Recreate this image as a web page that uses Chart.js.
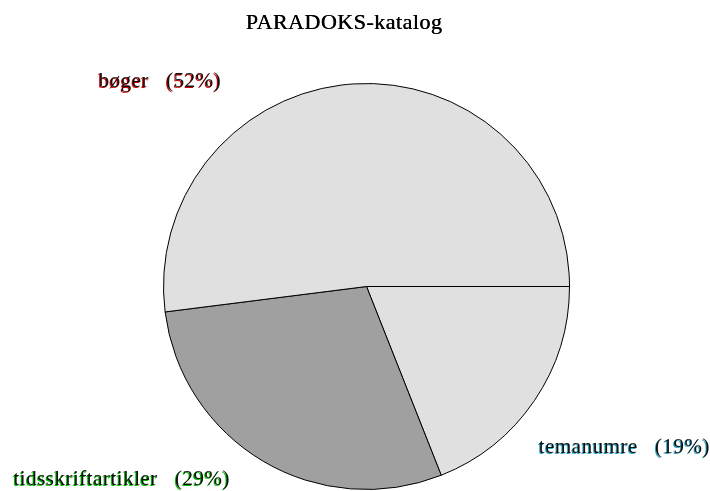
<!DOCTYPE html>
<html>
  <head>
    <title>PARADOKS-katalog</title>
    <script src="https://cdn.jsdelivr.net/npm/chart.js"></script>
    <style>
      body {
        margin: 0;
        background: #ffffff;
      }
      .chart-container {
        width: 710px;
        height: 491px;
      }
    </style>
  </head>
  <body>
    <div class="chart-container">
      <canvas id="myChart" width="710" height="491"></canvas>
    </div>

    <script>
      // slices in drawing order, clockwise from 3 o'clock
      const labels = ["temanumre", "tidsskriftartikler", "bøger"];
      const values = [19, 29, 52];
      const sliceColors = ["#e0e0e0", "#a0a0a0", "#e0e0e0"];
      const labelColors = ["#2aa6c8", "#00c000", "#d00000"];
      const titleText = "PARADOKS-katalog";

      // label placement relative to pie centre, in radius units (left x, baseline y)
      const labelOffsets = [
        [0.849, 0.819],
        [-1.739, 0.978],
        [-1.319, -0.981],
      ];

      const textPlugin = {
        id: "textPlugin",
        afterDraw(chart) {
          const ctx = chart.ctx;
          const arc = chart.getDatasetMeta(0).data[0];
          const cx = arc.x,
            cy = arc.y,
            r = arc.outerRadius;
          const total = values.reduce((a, b) => a + b, 0);
          ctx.save();
          ctx.font = '22px "Liberation Serif"';
          ctx.letterSpacing = "0.5px";
          ctx.fillStyle = "#000";
          ctx.textAlign = "left";
          ctx.textBaseline = "alphabetic";
          const tw = ctx.measureText(titleText).width;
          ctx.fillText(titleText, 344 - tw / 2, 29);
          ctx.fillText(titleText, 344.4 - tw / 2, 29);

          ctx.font = '21px "Liberation Serif"';
          ctx.letterSpacing = "0.5px";
          for (let i = 0; i < labels.length; i++) {
            const pct = Math.round((values[i] / total) * 100);
            const txt = labels[i] + "   (" + pct + "%)";
            const x = cx + labelOffsets[i][0] * r;
            const y = cy + labelOffsets[i][1] * r;
            ctx.fillStyle = labelColors[i];
            ctx.fillText(txt, x - 1, y + 1);
            ctx.fillStyle = "#111";
            ctx.fillText(txt, x, y);
          }
          ctx.restore();
        },
      };

      const ctx = document.getElementById("myChart").getContext("2d");
      new Chart(ctx, {
        type: "pie",
        data: {
          labels: labels,
          datasets: [
            {
              data: values,
              backgroundColor: sliceColors,
              borderColor: "#000000",
              borderWidth: 1,
            },
          ],
        },
        options: {
          responsive: false,
          animation: false,
          rotation: 90,
          events: [],
          layout: {
            padding: { left: 163, right: 140, top: 83, bottom: 1 },
          },
          plugins: {
            legend: { display: false },
            tooltip: { enabled: false },
            title: { display: false },
          },
        },
        plugins: [textPlugin],
      });
    </script>
  </body>
</html>
